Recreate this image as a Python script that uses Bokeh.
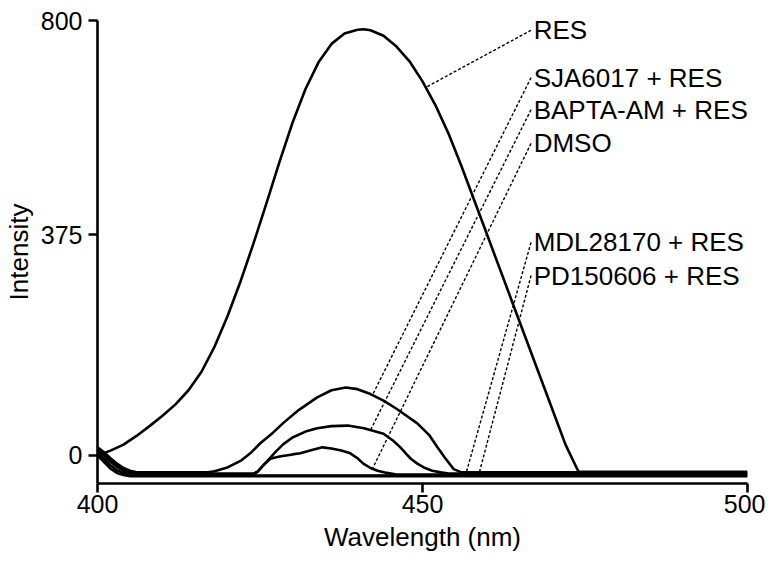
from bokeh.plotting import figure
from bokeh.models import FixedTicker, Range1d
from bokeh.core.properties import value
from bokeh.embed import file_html
from bokeh.resources import INLINE
import numpy as np

# ---- data ----
res_wl = [400, 402, 404, 406, 408, 410, 412, 414, 416, 418, 420, 422, 424, 426, 428, 430,
          432, 434, 436, 438, 440, 441, 442, 444, 446, 448, 450, 452, 454, 456, 458, 460,
          462, 464, 466, 468, 470, 472, 474, 500]
res_val = [0, 9, 20, 36, 54, 73, 94, 120, 154, 200, 256, 320, 390, 464, 540, 612,
           674, 723, 757, 776, 783, 784, 782, 772, 752, 725, 688, 644, 592, 532, 468, 404,
           340, 276, 212, 148, 84, 20, -30, -30]

sja_wl = [400, 401, 402, 403, 404, 405, 406, 417, 418, 420, 422, 423.5, 425, 427, 428.6, 431,
          433.8, 436, 438.2, 440, 442, 444, 446, 449.2, 451, 452.3, 453.5, 454.8, 456, 500]
sja_val = [15, 6, -5, -15, -23, -28, -31, -31, -29, -22, -10, 4, 22, 42, 60, 84,
           107, 120, 125, 122, 113, 101, 86, 59, 38, 15, -5, -25, -31, -31]

bapta_wl = [400, 401, 402, 403, 404, 405, 406, 424, 424.6, 425.5, 426.6, 427.5, 428.6, 430,
            432, 433.8, 436, 438.5, 441, 444, 445.5, 446.6, 447.5, 448.2, 449.2, 450.2,
            451.5, 452.8, 454, 500]
bapta_val = [10, 0, -11, -21, -28, -32, -33, -33, -30, -18, -4, 8, 21, 33,
             44, 50, 54, 55, 50, 40, 27, 15, 3, -6, -15, -22,
             -28, -31, -33, -33]

dmso_wl = [400, 401, 402, 403, 404, 405, 424, 424.6, 425.5, 426.6, 428, 430, 431.2, 433,
           434.6, 436, 437.5, 438.9, 440, 440.9, 442, 443.1, 444.5, 446, 500]
dmso_val = [5, -6, -18, -27, -32, -35, -35, -30, -18, -6, -2, 2, 4, 10,
            15, 13, 9, 4, -5, -15, -23, -28, -32, -35, -35]

mdl_wl = [400, 401, 402, 403, 404, 405, 406, 407, 500]
mdl_val = [12, 3, -8, -18, -26, -32, -35, -37, -37]

pd_wl = [400, 401, 402, 403, 404, 405, 500]
pd_val = [0, -12, -24, -32, -36, -38, -38]

series_names = ["RES", "SJA6017 + RES", "BAPTA-AM + RES", "DMSO", "MDL28170 + RES", "PD150606 + RES"]
series_wl = [res_wl, sja_wl, bapta_wl, dmso_wl, mdl_wl, pd_wl]
series_val = [res_val, sja_val, bapta_val, dmso_val, mdl_val, pd_val]

# label annotation placement (data coordinates)
label_y = [782, 695, 636, 574, 392, 331]
touch_wl = [450.5, 442.3, 442.0, 442.3, 456.6, 458.6]
label_text_wl = 467.1
leader_start_wl = 466.7

x_ticks = [400, 450, 500]
y_tick_pos = [0, 406, 800]
y_tick_labels = ["0", "375", "800"]

FONT = "Liberation Sans"

p = figure(width=765, height=557, output_backend="svg", toolbar_location=None,
           x_range=Range1d(400, 500), y_range=Range1d(-51.5, 800),
           min_border_left=97, min_border_right=18, min_border_top=20, min_border_bottom=74)
p.outline_line_color = None
p.xgrid.visible = False
p.ygrid.visible = False
p.background_fill_color = "white"

for wl, val in zip(series_wl, series_val):
    p.line(wl, val, line_color="black", line_width=2.6)

for name, ly, tw, wl, val in zip(series_names, label_y, touch_wl, series_wl, series_val):
    ty = float(np.interp(tw, wl, val))
    p.line([leader_start_wl, tw], [ly, ty], line_color="black", line_width=1.4, line_dash="3 2")
    p.text([label_text_wl], [ly], text=[name], text_font=value(FONT), text_font_size="26px",
           text_baseline="middle", text_align="left", text_color="black")

p.xaxis.ticker = FixedTicker(ticks=x_ticks)
p.yaxis.ticker = FixedTicker(ticks=y_tick_pos)
p.yaxis.major_label_overrides = {pos: lab for pos, lab in zip(y_tick_pos, y_tick_labels)}
p.xaxis.axis_label = "Wavelength (nm)"
p.yaxis.axis_label = "Intensity"
for ax in (p.xaxis, p.yaxis):
    ax.axis_line_width = 2.6
    ax.major_tick_line_width = 2.6
    ax.major_tick_out = 9
    ax.major_tick_in = 0
    ax.minor_tick_out = 0
    ax.minor_tick_in = 0
    ax.major_label_text_font = FONT
    ax.major_label_text_font_size = "25px"
    ax.major_label_text_color = "black"
    ax.axis_label_text_font = FONT
    ax.axis_label_text_font_size = "26px"
    ax.axis_label_text_font_style = "normal"
    ax.axis_label_text_color = "black"
    ax.axis_line_color = "black"
    ax.major_tick_line_color = "black"
p.yaxis.major_label_standoff = 6
p.yaxis.axis_label_standoff = 4
p.xaxis.major_label_standoff = 2
p.xaxis.axis_label_standoff = 6

open("out.html", "w").write(file_html(p, INLINE))
